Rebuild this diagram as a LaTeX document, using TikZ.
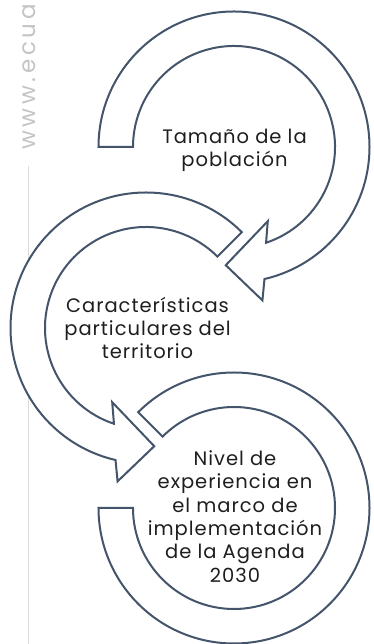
\documentclass[tikz,border=0pt]{standalone}
\usepackage{fontspec}
\setmainfont{Poppins}
\newfontfamily\lblfont[LetterSpace=5]{Poppins}
\newfontfamily\sitefont[LetterSpace=16]{Poppins}
\definecolor{ringink}{HTML}{44546A}
\definecolor{sitegray}{HTML}{C4C4C4}
\definecolor{rulegray}{HTML}{DCDCDC}
\definecolor{txtink}{HTML}{1E1E1E}

\begin{document}
\begin{tikzpicture}[
  x=1pt, y=1pt,
  ring/.style  = {draw=ringink, line width=2pt, fill=white, line join=miter},
  lbl/.style   = {font=\lblfont\fontsize{19.5}{23.3}\selectfont, align=center,
                  text=txtink, inner sep=0pt},
  site/.style  = {font=\sitefont\fontsize{23}{23}\selectfont, text=sitegray,
                  inner sep=0pt, rotate=90, anchor=base west},
  rulel/.style = {draw=rulegray, line width=1pt},
]
\useasboundingbox (0,0) rectangle (374,644);
\coordinate (c1) at (234,497);
\coordinate (c2) at (146,316);
\coordinate (c3) at (234,136);
% side mark
\node[site] (web) at (35,494) {www.ecua};
\draw[rulel] (28.5,478) -- (28.5,0);
% first arrow, turning clockwise
\draw[ring] ([shift={(180:101)}]c1) -- ([shift={(180:135.5)}]c1)
  arc[start angle=180, end angle=-77, radius=135.5]
  -- ([shift={(-79.5:156)}]c1) -- ([shift={(-94:118.5)}]c1)
  -- ([shift={(-65.5:81.5)}]c1) -- ([shift={(-71.5:101)}]c1)
  arc[start angle=-71.5, end angle=180, radius=101] -- cycle;
% second arrow, turning the other way
\draw[ring] ([shift={(45:101)}]c2) -- ([shift={(45:135.5)}]c2)
  arc[start angle=45, end angle=257, radius=135.5]
  -- ([shift={(259.5:156)}]c2) -- ([shift={(274:118.5)}]c2)
  -- ([shift={(245.5:81.5)}]c2) -- ([shift={(251.5:101)}]c2)
  arc[start angle=251.5, end angle=45, radius=101] -- cycle;
% last ring, no head
\draw[ring] ([shift={(135:101)}]c3) -- ([shift={(135:135.5)}]c3)
  arc[start angle=135, end angle=-180, radius=135.5]
  -- ([shift={(180:101)}]c3)
  arc[start angle=-180, end angle=135, radius=101] -- cycle;
\node[lbl] (pop) at (234.5,494) {Tamaño de la\\población};
\node[lbl] (ter) at (147.5,316) {Características\\particulares del\\territorio};
\node[lbl] (exp) at (235,127.5) {Nivel de\\experiencia en\\el marco de\\implementación\\de la Agenda\\2030};
\end{tikzpicture}
\end{document}
